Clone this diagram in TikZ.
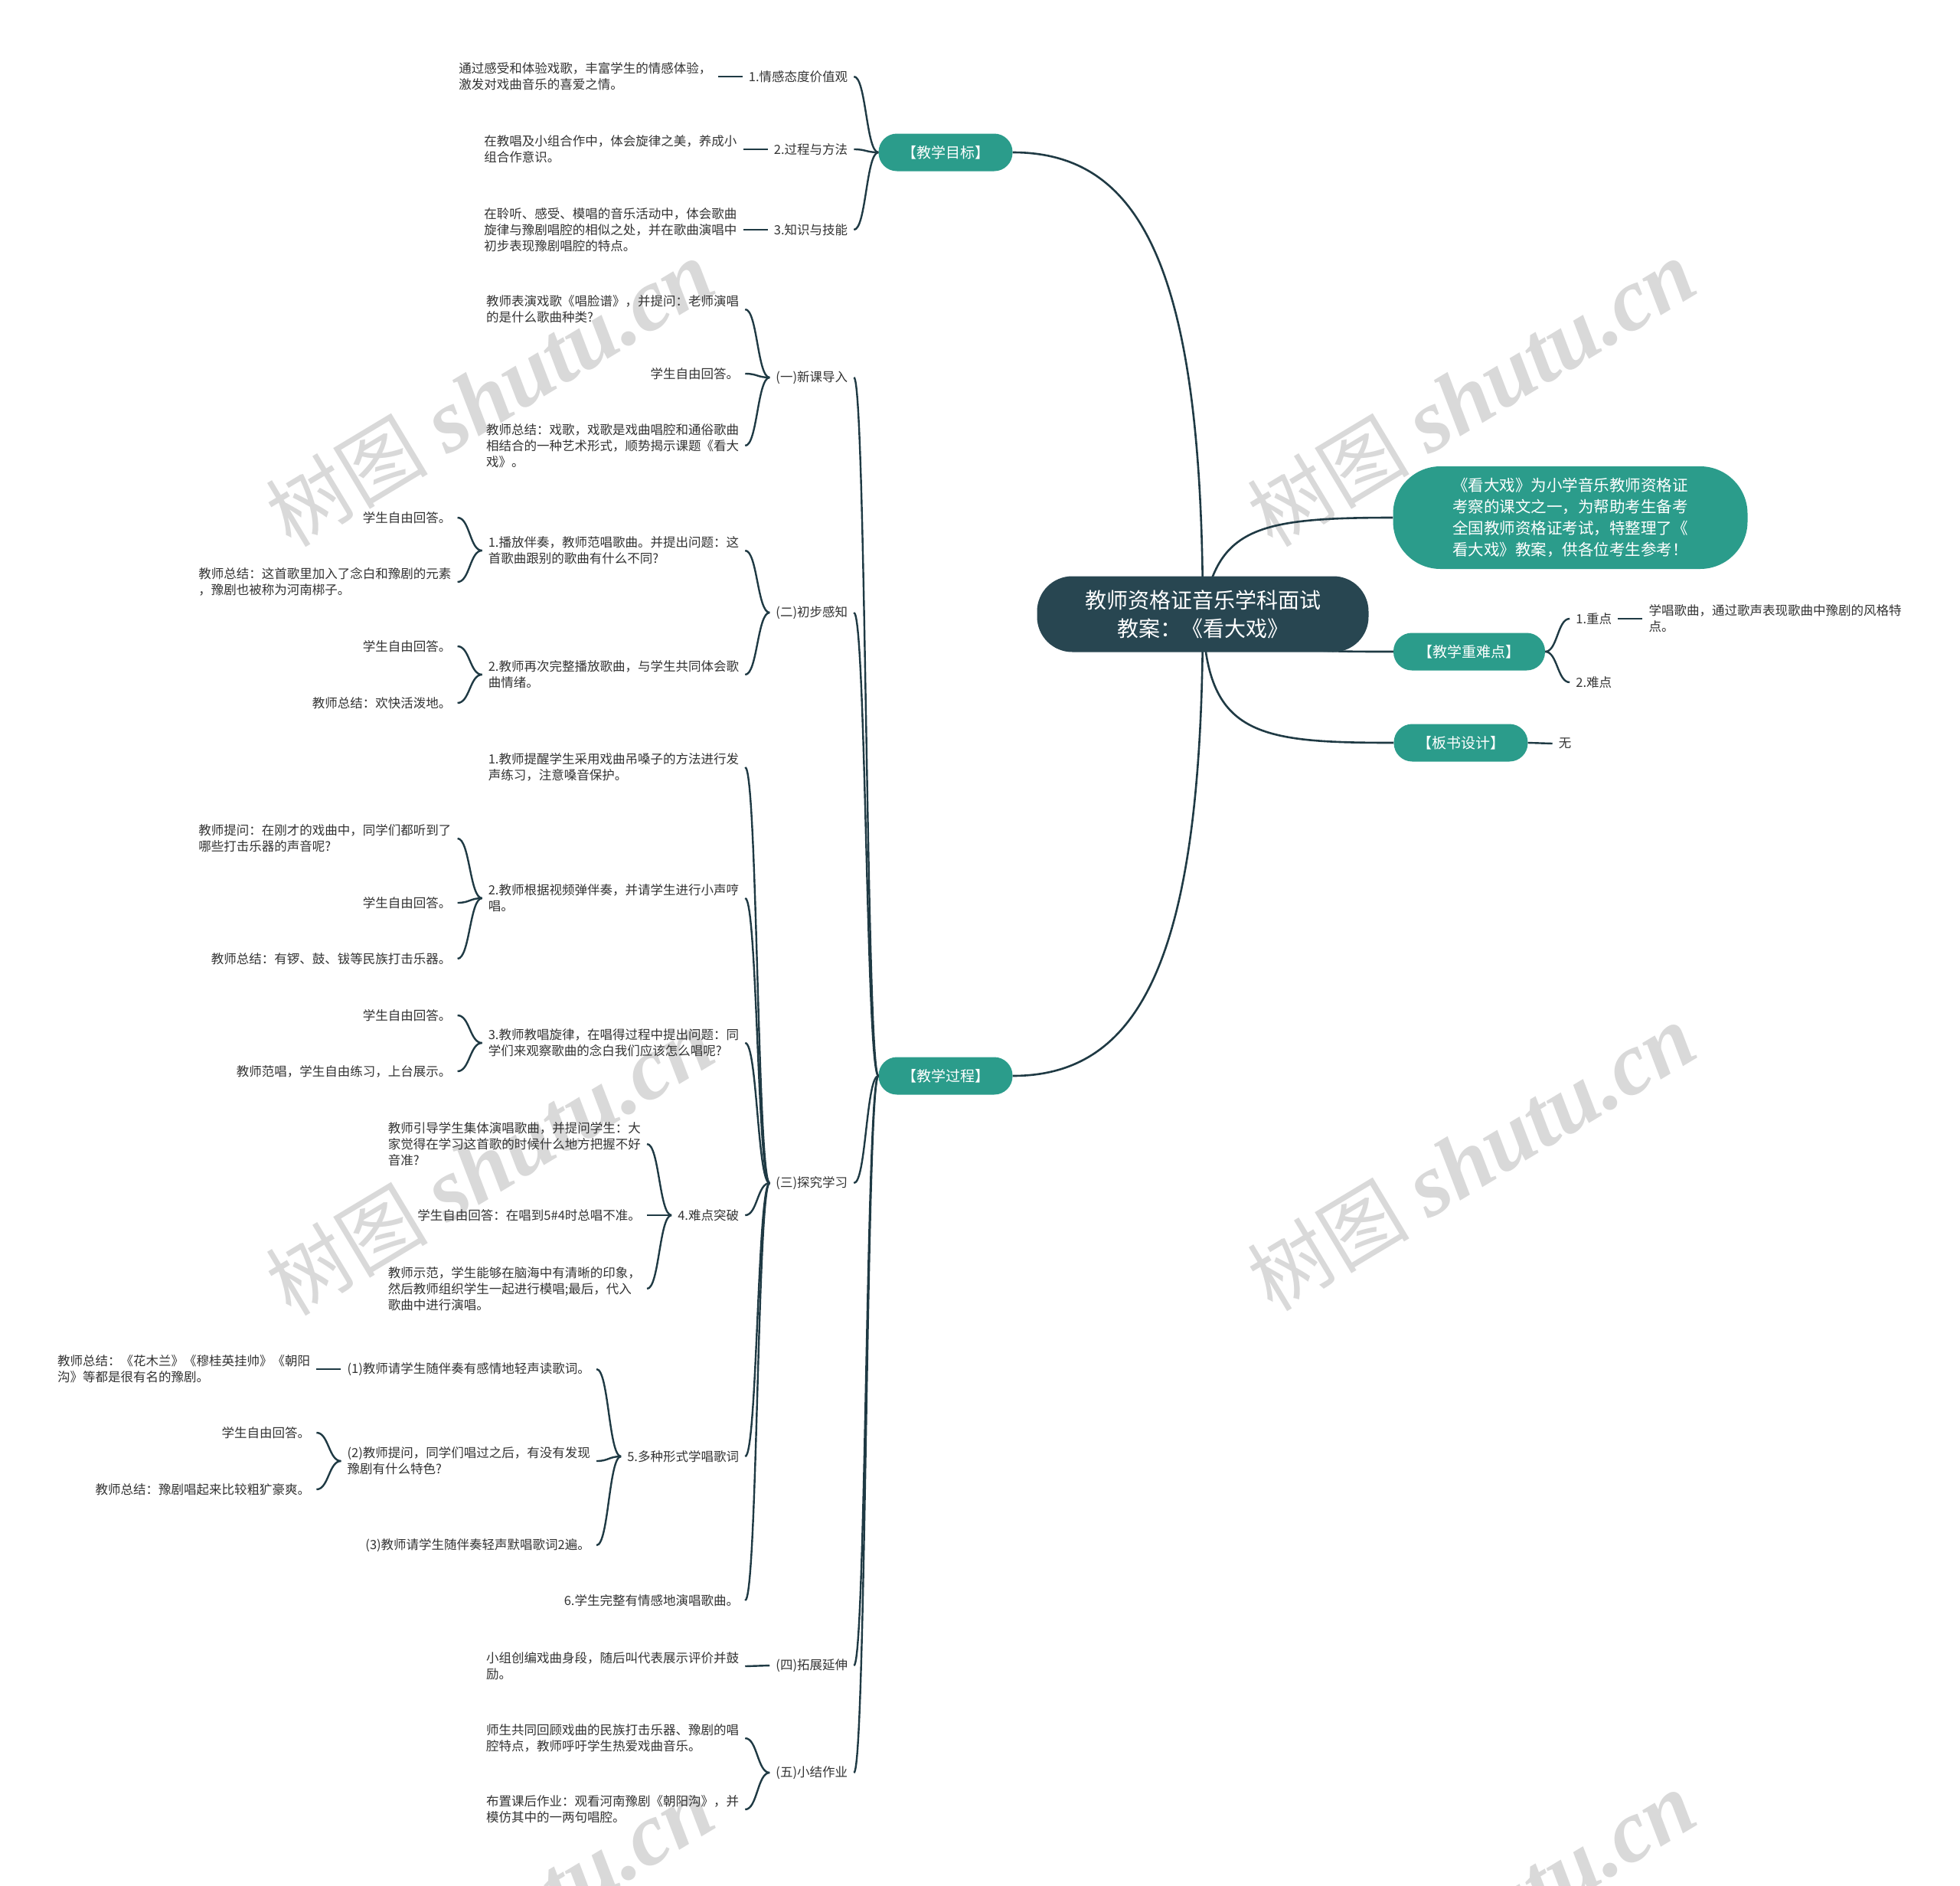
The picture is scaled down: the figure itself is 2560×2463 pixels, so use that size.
\documentclass[tikz,border=0pt]{standalone}
\usepackage{fontspec}
\setmainfont{Noto Sans CJK SC}
\newfontfamily\wmfont{Liberation Serif}
\newfontfamily\wmcjk{Noto Sans CJK SC}
\usetikzlibrary{backgrounds}
\definecolor{cdark}{HTML}{284651}
\definecolor{cteal}{HTML}{2B9C8B}
\definecolor{cline}{HTML}{1F3A44}
\definecolor{ctext}{HTML}{333333}
\definecolor{cwm}{HTML}{D9D9D9}
\tikzset{
  leaf/.style={inner xsep=8pt, inner ysep=3pt, align=left, text=ctext, font=\fontsize{16.5}{21}\selectfont},
  lchild/.style={leaf, anchor=east, xshift=-32pt},
  rchild/.style={leaf, anchor=west, xshift=32pt},
  conn/.style={draw=cline, line width=2.4pt},
  mainconn/.style={draw=cline, line width=2.6pt},
  mainbox/.style={fill=cteal, text=white, rounded corners=24pt, minimum height=49pt, inner xsep=30pt, font=\fontsize{19}{24}\selectfont},
  wmark/.style={rotate=31, text=cwm, inner sep=0pt},
}
\newcommand{\cbL}[2]{\draw[conn] (#1.west) .. controls +(-16,0) and +(16,0) .. (#2.east);}
\newcommand{\csL}[2]{\draw[conn] (#1.west) -- (#2.east);}
\newcommand{\cbR}[2]{\draw[conn] (#1.east) .. controls +(16,0) and +(-16,0) .. (#2.west);}
\newcommand{\csR}[2]{\draw[conn] (#1.east) -- (#2.west);}
\newcommand{\wmtext}{{\wmcjk\fontsize{106}{106}\selectfont 树图}\hspace{26pt}{\wmfont\itshape\bfseries\fontsize{116}{116}\selectfont shutu.cn}}
\begin{document}
\begin{tikzpicture}[x=1pt, y=-1pt]
\useasboundingbox (0,0) rectangle (2560,2463);
% ---------- main nodes ----------
\node[fill=cdark, text=white, rounded corners=46pt, minimum width=433pt, minimum height=99pt, align=center, font=\fontsize{28}{37}\selectfont] (cen) at (1571,802) {教师资格证音乐学科面试\\教案：《看大戏》};
\node[fill=cteal, text=white, rounded corners=62pt, minimum width=463pt, minimum height=134pt, align=center, font=\fontsize{20.5}{28}\selectfont] (sum) at (2051,676) {《看大戏》为小学音乐教师资格证\\考察的课文之一，为帮助考生备考\\全国教师资格证考试，特整理了《\\看大戏》教案，供各位考生参考！};
\node[mainbox, minimum width=175pt] (zbm) at (1235,199) {【教学目标】};
\node[mainbox, minimum width=175pt] (gc) at (1235,1405) {【教学过程】};
\node[mainbox, minimum width=198pt] (zn) at (1919,851) {【教学重难点】};
\node[mainbox, minimum width=175pt] (bs) at (1908,970) {【板书设计】};
% ---------- background ----------
\begin{scope}[on background layer]
\fill[white] (0,0) rectangle (2560,2463);
\node[wmark] at (640,514) {\wmtext};
\node[wmark] at (1922,514) {\wmtext};
\node[wmark] at (640,1518) {\wmtext};
\node[wmark] at (1922,1512) {\wmtext};
\node[wmark] at (640,2518) {\wmtext};
\node[wmark] at (1922,2514) {\wmtext};
\draw[mainconn] (cen.center) .. controls (1571,350) and (1490,199) .. (zbm.east);
\draw[mainconn] (cen.center) .. controls (1571,1250) and (1490,1405) .. (gc.east);
\draw[mainconn] (cen.center) .. controls (1590,690) and (1640,676) .. (sum.west);
\draw[mainconn] (cen.center) .. controls (1650,851) and (1700,851) .. (zn.west);
\draw[mainconn] (cen.center) .. controls (1575,960) and (1640,970) .. (bs.west);
\end{scope}
% ---------- 教学目标 ----------
\node[lchild] (a1) at (zbm.west |- 0,100) {1.情感态度价值观};
\node[lchild] (a2) at (zbm.west |- 0,195) {2.过程与方法};
\node[lchild] (a3) at (zbm.west |- 0,300) {3.知识与技能};
\node[lchild] (a1t) at (a1.west |- 0,100) {通过感受和体验戏歌，丰富学生的情感体验，\\激发对戏曲音乐的喜爱之情。};
\node[lchild] (a2t) at (a2.west |- 0,195) {在教唱及小组合作中，体会旋律之美，养成小\\组合作意识。};
\node[lchild] (a3t) at (a3.west |- 0,300) {在聆听、感受、模唱的音乐活动中，体会歌曲\\旋律与豫剧唱腔的相似之处，并在歌曲演唱中\\初步表现豫剧唱腔的特点。};
\cbL{zbm}{a1} \cbL{zbm}{a2} \cbL{zbm}{a3}
\csL{a1}{a1t} \csL{a2}{a2t} \csL{a3}{a3t}
% ---------- 教学过程 ----------
\node[lchild] (p1) at (gc.west |- 0,493) {(一)新课导入};
\node[lchild] (p2) at (gc.west |- 0,800) {(二)初步感知};
\node[lchild] (p3) at (gc.west |- 0,1545) {(三)探究学习};
\node[lchild] (p4) at (gc.west |- 0,2175) {(四)拓展延伸};
\node[lchild] (p5) at (gc.west |- 0,2315) {(五)小结作业};
\cbL{gc}{p1} \cbL{gc}{p2} \cbL{gc}{p3} \cbL{gc}{p4} \cbL{gc}{p5}
% (一)
\node[lchild] (b1) at (p1.west |- 0,404) {教师表演戏歌《唱脸谱》，并提问：老师演唱\\的是什么歌曲种类?};
\node[lchild] (b2) at (p1.west |- 0,488) {学生自由回答。};
\node[lchild] (b3) at (p1.west |- 0,582) {教师总结：戏歌，戏歌是戏曲唱腔和通俗歌曲\\相结合的一种艺术形式，顺势揭示课题《看大\\戏》。};
\cbL{p1}{b1} \cbL{p1}{b2} \cbL{p1}{b3}
% (二)
\node[lchild] (q1) at (p2.west |- 0,719) {1.播放伴奏，教师范唱歌曲。并提出问题：这\\首歌曲跟别的歌曲有什么不同?};
\node[lchild] (q2) at (p2.west |- 0,881) {2.教师再次完整播放歌曲，与学生共同体会歌\\曲情绪。};
\cbL{p2}{q1} \cbL{p2}{q2}
\node[lchild] (q1a) at (q1.west |- 0,676) {学生自由回答。};
\node[lchild] (q1b) at (q1.west |- 0,760) {教师总结：这首歌里加入了念白和豫剧的元素\\，豫剧也被称为河南梆子。};
\cbL{q1}{q1a} \cbL{q1}{q1b}
\node[lchild] (q2a) at (q2.west |- 0,844) {学生自由回答。};
\node[lchild] (q2b) at (q2.west |- 0,918) {教师总结：欢快活泼地。};
\cbL{q2}{q2a} \cbL{q2}{q2b}
% (三)
\node[lchild] (r1) at (p3.west |- 0,1002) {1.教师提醒学生采用戏曲吊嗓子的方法进行发\\声练习，注意嗓音保护。};
\node[lchild] (r2) at (p3.west |- 0,1173) {2.教师根据视频弹伴奏，并请学生进行小声哼\\唱。};
\node[lchild] (r3) at (p3.west |- 0,1362) {3.教师教唱旋律，在唱得过程中提出问题：同\\学们来观察歌曲的念白我们应该怎么唱呢?};
\node[lchild] (r4) at (p3.west |- 0,1587) {4.难点突破};
\node[lchild] (r5) at (p3.west |- 0,1902) {5.多种形式学唱歌词};
\node[lchild] (r6) at (p3.west |- 0,2090) {6.学生完整有情感地演唱歌曲。};
\cbL{p3}{r1} \cbL{p3}{r2} \cbL{p3}{r3} \cbL{p3}{r4} \cbL{p3}{r5} \cbL{p3}{r6}
\node[lchild] (r2a) at (r2.west |- 0,1095) {教师提问：在刚才的戏曲中，同学们都听到了\\哪些打击乐器的声音呢?};
\node[lchild] (r2b) at (r2.west |- 0,1179) {学生自由回答。};
\node[lchild] (r2c) at (r2.west |- 0,1252) {教师总结：有锣、鼓、钹等民族打击乐器。};
\cbL{r2}{r2a} \cbL{r2}{r2b} \cbL{r2}{r2c}
\node[lchild] (r3a) at (r3.west |- 0,1326) {学生自由回答。};
\node[lchild] (r3b) at (r3.west |- 0,1399) {教师范唱，学生自由练习，上台展示。};
\cbL{r3}{r3a} \cbL{r3}{r3b}
\node[lchild] (r4a) at (r4.west |- 0,1494) {教师引导学生集体演唱歌曲，并提问学生：大\\家觉得在学习这首歌的时候什么地方把握不好\\音准?};
\node[lchild] (r4b) at (r4.west |- 0,1587) {学生自由回答：在唱到5\#4时总唱不准。};
\node[lchild] (r4c) at (r4.west |- 0,1683) {教师示范，学生能够在脑海中有清晰的印象，\\然后教师组织学生一起进行模唱;最后，代入\\歌曲中进行演唱。};
\cbL{r4}{r4a} \cbL{r4}{r4b} \cbL{r4}{r4c}
\node[lchild] (s1) at (r5.west |- 0,1788) {(1)教师请学生随伴奏有感情地轻声读歌词。};
\node[lchild] (s2) at (r5.west |- 0,1908) {(2)教师提问，同学们唱过之后，有没有发现\\豫剧有什么特色?};
\node[lchild] (s3) at (r5.west |- 0,2018) {(3)教师请学生随伴奏轻声默唱歌词2遍。};
\cbL{r5}{s1} \cbL{r5}{s2} \cbL{r5}{s3}
\node[lchild] (s1a) at (s1.west |- 0,1788) {教师总结：《花木兰》《穆桂英挂帅》《朝阳\\沟》等都是很有名的豫剧。};
\csL{s1}{s1a}
\node[lchild] (s2a) at (s2.west |- 0,1871) {学生自由回答。};
\node[lchild] (s2b) at (s2.west |- 0,1945) {教师总结：豫剧唱起来比较粗犷豪爽。};
\cbL{s2}{s2a} \cbL{s2}{s2b}
% (四)
\node[lchild] (t1) at (p4.west |- 0,2176) {小组创编戏曲身段，随后叫代表展示评价并鼓\\励。};
\csL{p4}{t1}
% (五)
\node[lchild] (u1) at (p5.west |- 0,2270) {师生共同回顾戏曲的民族打击乐器、豫剧的唱\\腔特点，教师呼吁学生热爱戏曲音乐。};
\node[lchild] (u2) at (p5.west |- 0,2363) {布置课后作业：观看河南豫剧《朝阳沟》，并\\模仿其中的一两句唱腔。};
\cbL{p5}{u1} \cbL{p5}{u2}
% ---------- right side ----------
\node[rchild] (k1) at (zn.east |- 0,808) {1.重点};
\node[rchild] (k2) at (zn.east |- 0,891) {2.难点};
\cbR{zn}{k1} \cbR{zn}{k2}
\node[rchild] (k1t) at (k1.east |- 0,808) {学唱歌曲，通过歌声表现歌曲中豫剧的风格特\\点。};
\csR{k1}{k1t}
\node[rchild] (w) at (bs.east |- 0,971) {无};
\csR{bs}{w}
\end{tikzpicture}
\end{document}
